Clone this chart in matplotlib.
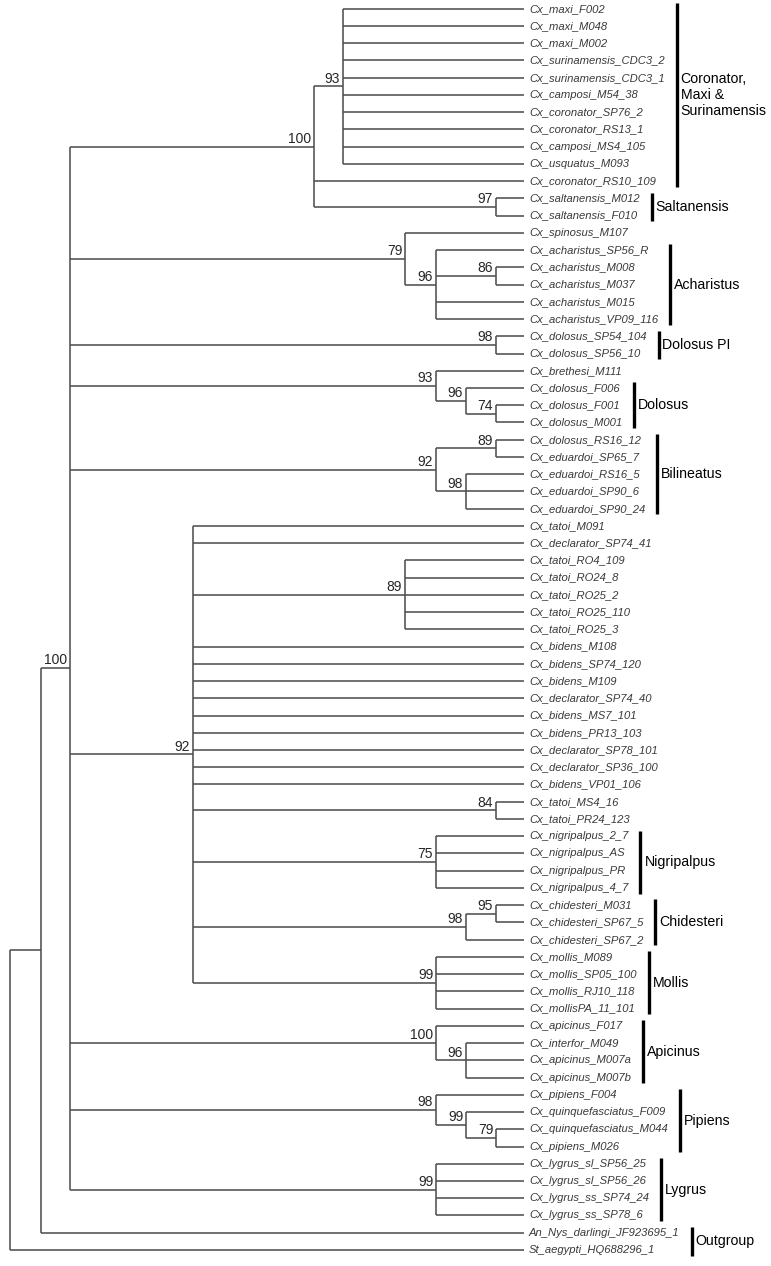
import matplotlib.pyplot as plt

plt.rcParams['font.family'] = ['Liberation Sans', 'DejaVu Sans']

# tree: [node depth, bootstrap support, children...]; leaves are names
TIP_X = 524
tree = [10, None,
    [41, None,
        [70, '100',
            [314, '100',
                [343, '93',
                    'Cx_maxi_F002', 'Cx_maxi_M048', 'Cx_maxi_M002',
                    'Cx_surinamensis_CDC3_2', 'Cx_surinamensis_CDC3_1',
                    'Cx_camposi_M54_38', 'Cx_coronator_SP76_2', 'Cx_coronator_RS13_1',
                    'Cx_camposi_MS4_105', 'Cx_usquatus_M093'],
                'Cx_coronator_RS10_109',
                [496, '97', 'Cx_saltanensis_M012', 'Cx_saltanensis_F010']],
            [405, '79',
                'Cx_spinosus_M107',
                [436, '96',
                    'Cx_acharistus_SP56_R',
                    [496, '86', 'Cx_acharistus_M008', 'Cx_acharistus_M037'],
                    'Cx_acharistus_M015', 'Cx_acharistus_VP09_116']],
            [496, '98', 'Cx_dolosus_SP54_104', 'Cx_dolosus_SP56_10'],
            [436, '93',
                'Cx_brethesi_M111',
                [466, '96', 'Cx_dolosus_F006',
                    [496, '74', 'Cx_dolosus_F001', 'Cx_dolosus_M001']]],
            [436, '92',
                [496, '89', 'Cx_dolosus_RS16_12', 'Cx_eduardoi_SP65_7'],
                [466, '98', 'Cx_eduardoi_RS16_5', 'Cx_eduardoi_SP90_6', 'Cx_eduardoi_SP90_24']],
            [193, '92',
                'Cx_tatoi_M091', 'Cx_declarator_SP74_41',
                [405, '89', 'Cx_tatoi_RO4_109', 'Cx_tatoi_RO24_8', 'Cx_tatoi_RO25_2',
                    'Cx_tatoi_RO25_110', 'Cx_tatoi_RO25_3'],
                'Cx_bidens_M108', 'Cx_bidens_SP74_120', 'Cx_bidens_M109',
                'Cx_declarator_SP74_40', 'Cx_bidens_MS7_101', 'Cx_bidens_PR13_103',
                'Cx_declarator_SP78_101', 'Cx_declarator_SP36_100', 'Cx_bidens_VP01_106',
                [496, '84', 'Cx_tatoi_MS4_16', 'Cx_tatoi_PR24_123'],
                [436, '75', 'Cx_nigripalpus_2_7', 'Cx_nigripalpus_AS',
                    'Cx_nigripalpus_PR', 'Cx_nigripalpus_4_7'],
                [466, '98',
                    [496, '95', 'Cx_chidesteri_M031', 'Cx_chidesteri_SP67_5'],
                    'Cx_chidesteri_SP67_2'],
                [436, '99', 'Cx_mollis_M089', 'Cx_mollis_SP05_100',
                    'Cx_mollis_RJ10_118', 'Cx_mollisPA_11_101']],
            [436, '100',
                'Cx_apicinus_F017',
                [466, '96', 'Cx_interfor_M049', 'Cx_apicinus_M007a', 'Cx_apicinus_M007b']],
            [436, '98',
                'Cx_pipiens_F004',
                [466, '99', 'Cx_quinquefasciatus_F009',
                    [496, '79', 'Cx_quinquefasciatus_M044', 'Cx_pipiens_M026']]],
            [436, '99', 'Cx_lygrus_sl_SP56_25', 'Cx_lygrus_sl_SP56_26',
                'Cx_lygrus_ss_SP74_24', 'Cx_lygrus_ss_SP78_6']],
        'An_Nys_darlingi_JF923695_1'],
    'St_aegypti_HQ688296_1']

# clade name, first leaf, last leaf
clades = [
    ('Coronator,\nMaxi &\nSurinamensis', 'Cx_maxi_F002', 'Cx_coronator_RS10_109'),
    ('Saltanensis', 'Cx_saltanensis_M012', 'Cx_saltanensis_F010'),
    ('Acharistus', 'Cx_acharistus_SP56_R', 'Cx_acharistus_VP09_116'),
    ('Dolosus PI', 'Cx_dolosus_SP54_104', 'Cx_dolosus_SP56_10'),
    ('Dolosus', 'Cx_dolosus_F006', 'Cx_dolosus_M001'),
    ('Bilineatus', 'Cx_dolosus_RS16_12', 'Cx_eduardoi_SP90_24'),
    ('Nigripalpus', 'Cx_nigripalpus_2_7', 'Cx_nigripalpus_4_7'),
    ('Chidesteri', 'Cx_chidesteri_M031', 'Cx_chidesteri_SP67_2'),
    ('Mollis', 'Cx_mollis_M089', 'Cx_mollisPA_11_101'),
    ('Apicinus', 'Cx_apicinus_F017', 'Cx_apicinus_M007b'),
    ('Pipiens', 'Cx_pipiens_F004', 'Cx_pipiens_M026'),
    ('Lygrus', 'Cx_lygrus_sl_SP56_25', 'Cx_lygrus_ss_SP78_6'),
    ('Outgroup', 'An_Nys_darlingi_JF923695_1', 'St_aegypti_HQ688296_1'),
]

fig = plt.figure(figsize=(7.71, 12.66), dpi=100)
ax = fig.add_axes([0, 0, 1, 1])
ax.set_xlim(0, 771)
ax.set_ylim(72.93, -0.505)
ax.axis('off')

line_kw = dict(color='#505050', lw=1.15, solid_capstyle='butt')
order = []
labels = {}


def draw(node):
    if isinstance(node, str):
        y = len(order)
        order.append(node)
        labels[node] = ax.text(TIP_X + 5, y, node, style='italic', fontsize=8.1,
                               color='#3a3a3a', va='center', ha='left')
        return TIP_X, y
    depth, support, *kids = node
    pts = [draw(k) for k in kids]
    ys = [p[1] for p in pts]
    ax.plot([depth, depth], [ys[0], ys[-1]], **line_kw)
    for x, y in pts:
        ax.plot([depth, x], [y, y], **line_kw)
    y = (ys[0] + ys[-1]) / 2
    if support:
        ax.annotate(support, (depth, y), xytext=(-2, 0.5), textcoords='offset points',
                    ha='right', va='bottom', fontsize=10, color='#262626')
    return depth, y


draw(tree)

fig.canvas.draw()
inv = ax.transData.inverted()
for name, first, last in clades:
    i0, i1 = order.index(first), order.index(last)
    right = max(inv.transform((labels[n].get_window_extent().x1, 0))[0]
                for n in order[i0:i1 + 1])
    bx = right + 12
    ax.plot([bx, bx], [i0 - 0.33, i1 + 0.33], color='black', lw=2.4, solid_capstyle='butt')
    ax.text(bx + 4, (i0 + i1) / 2, name, fontsize=10.2, va='center', ha='left',
            linespacing=1.15, color='black')

fig.savefig('out.png', dpi=100)
